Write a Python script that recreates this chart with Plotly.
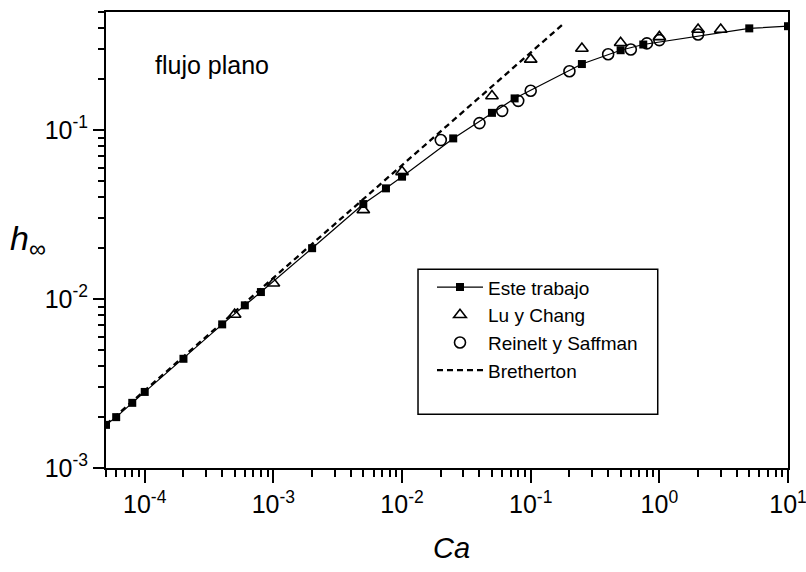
import plotly.graph_objects as go

# ---- data ----
este_ca = [5e-5, 6e-5, 8e-5, 1e-4, 2e-4, 4e-4, 6e-4, 8e-4, 2e-3, 5e-3, 7.5e-3, 1e-2,
           2.5e-2, 5e-2, 7.5e-2, 0.25, 0.5, 0.75, 5, 10]
este_h = [1.8e-3, 2.0e-3, 2.43e-3, 2.82e-3, 4.43e-3, 7.08e-3, 9.18e-3, 0.0110, 0.020,
          0.0365, 0.0452, 0.053, 0.0893, 0.1265, 0.154, 0.246, 0.297, 0.321, 0.400, 0.412]

lu_ca = [5e-4, 1e-3, 5e-3, 1e-2, 5e-2, 0.1, 0.25, 0.5, 1, 2, 3]
lu_h = [8.1e-3, 0.0124, 0.0337, 0.0566, 0.159, 0.262, 0.304, 0.329, 0.356, 0.394, 0.394]

rs_ca = [0.02, 0.04, 0.06, 0.08, 0.1, 0.2, 0.4, 0.6, 0.8, 1.0, 2.0]
rs_h = [0.0873, 0.110, 0.130, 0.149, 0.171, 0.223, 0.281, 0.300, 0.326, 0.341, 0.368]

br_ca = [5e-5, 0.18]
br_h = [1.81e-3, 0.426]

x_major = [1e-4, 1e-3, 1e-2, 1e-1, 1e0, 1e1]
x_labels = ["10<sup>-4</sup>", "10<sup>-3</sup>", "10<sup>-2</sup>", "10<sup>-1</sup>",
            "10<sup>0</sup>", "10<sup>1</sup>"]
y_major = [1e-3, 1e-2, 1e-1]
y_labels = ["10<sup>-3</sup>", "10<sup>-2</sup>", "10<sup>-1</sup>"]

x_minor = [m * 10.0 ** e for e in range(-5, 1) for m in range(2, 10) if 5e-5 <= m * 10.0 ** e <= 10]
y_minor = [m * 10.0 ** e for e in range(-3, 0) for m in range(2, 10) if m * 10.0 ** e <= 0.5]

FONT = "Arial, 'Liberation Sans', Helvetica, sans-serif"

fig = go.Figure()

fig.add_trace(go.Scatter(
    x=br_ca, y=br_h, mode="lines", name="Bretherton", legendrank=4,
    line=dict(color="black", width=2.3, dash="6px,4px")))

fig.add_trace(go.Scatter(
    x=este_ca, y=este_h, mode="lines+markers", name="Este trabajo", legendrank=1,
    line=dict(color="black", width=1.2),
    marker=dict(symbol="square", size=8, color="black")))

fig.add_trace(go.Scatter(
    x=lu_ca, y=lu_h, mode="markers", name="Lu y Chang", legendrank=2,
    marker=dict(symbol="triangle-up-open", size=11, color="black", line=dict(width=1.6))))

fig.add_trace(go.Scatter(
    x=rs_ca, y=rs_h, mode="markers", name="Reinelt y Saffman", legendrank=3,
    marker=dict(symbol="circle-open", size=11, color="black", line=dict(width=1.6))))

axis_common = dict(
    type="log", showgrid=False, zeroline=False, showline=True, linecolor="black",
    linewidth=2, mirror=True, ticks="outside", tickcolor="black", tickwidth=1.5,
    tickfont=dict(family=FONT, size=25, color="black"), ticklabeloverflow="allow",
    automargin=False,
)

fig.update_xaxes(
    **axis_common, range=[-4.30103, 1], tickmode="array", tickvals=x_major,
    ticktext=x_labels, ticklen=13,
    minor=dict(tickmode="array", tickvals=x_minor, ticks="outside", ticklen=7,
               tickcolor="black", tickwidth=1.5, showgrid=False))
fig.update_yaxes(
    **axis_common, range=[-3, -0.30103], tickmode="array", tickvals=y_major,
    ticktext=y_labels, ticklen=11,
    minor=dict(tickmode="array", tickvals=y_minor, ticks="outside", ticklen=6,
               tickcolor="black", tickwidth=1.5, showgrid=False))

fig.update_layout(
    width=806, height=572,
    margin=dict(l=106, r=18, t=12, b=104, autoexpand=False),
    paper_bgcolor="white", plot_bgcolor="white",
    font=dict(family=FONT, color="black"),
    showlegend=True,
    legend=dict(x=0.478, y=0.438, xanchor="left", yanchor="top",
                bgcolor="rgba(0,0,0,0)", borderwidth=0,
                font=dict(family=FONT, size=19, color="black"),
                itemwidth=46, tracegroupgap=0),
    shapes=[dict(type="rect", xref="paper", yref="paper",
                 x0=0.4575, x1=0.809, y0=0.118, y1=0.436,
                 line=dict(color="black", width=1.5), fillcolor="rgba(0,0,0,0)")],
    annotations=[
        dict(text="flujo plano", xref="paper", yref="paper", x=0.069, y=0.884,
             xanchor="left", yanchor="middle", showarrow=False,
             font=dict(family=FONT, size=25, color="black")),
        dict(text="<i>h</i><sub>∞</sub>", xref="paper", yref="paper", x=-0.114, y=0.50,
             xanchor="center", yanchor="middle", showarrow=False,
             font=dict(family=FONT, size=34, color="black")),
        dict(text="<i>Ca</i>", xref="paper", yref="paper", x=0.506, y=-0.175,
             xanchor="center", yanchor="middle", showarrow=False,
             font=dict(family=FONT, size=29, color="black")),
    ],
)

fig.write_html("out.html")
